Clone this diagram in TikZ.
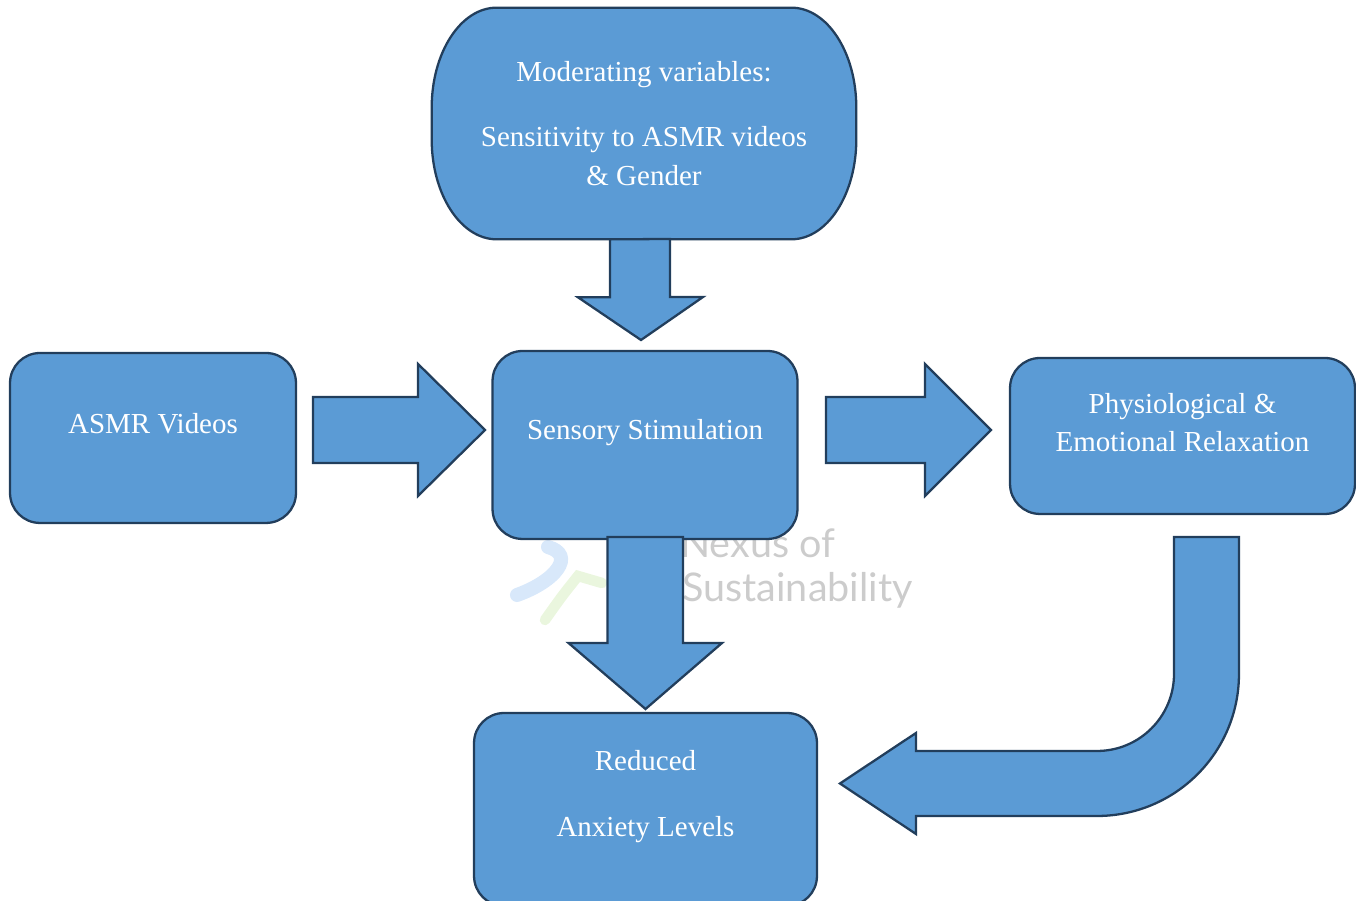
\documentclass[tikz,border=0pt]{standalone}
\usepackage{fontspec}
\setmainfont{Liberation Serif}
\newfontfamily\markfont{Lato}
\usetikzlibrary{calc,backgrounds}
\definecolor{boxfill}{HTML}{5B9BD5}
\definecolor{boxdraw}{HTML}{223E5C}
\definecolor{logoblue}{HTML}{D8E8FA}
\definecolor{logogreen}{HTML}{EAF6DE}

\begin{document}
\begin{tikzpicture}[x=0.02cm, y=0.02cm,
        boxline/.style={draw=boxdraw, fill=boxfill, line width=1.3pt},
        box/.style={boxline, rectangle, rounded corners=0.6cm, outer sep=0pt},
        boxtext/.style={text=white, font=\fontsize{16.5}{22}\selectfont, align=center},
        blockarrow/.style={boxline, line join=miter},
        wmark/.style={text=black!20, font=\markfont\fontsize{22.5}{27}\selectfont, inner sep=0pt}]

        \clip (0,0) rectangle (1356,901);

        % Watermark
        \draw[logoblue, line width=8pt, line cap=round] (548,354) .. controls (576,346) and (556,320) .. (517,306);
        \draw[logogreen, line width=6pt, line cap=round] (545,281) .. controls (562,305) .. (578,325) -- (602,318);
        \node[wmark, anchor=base west] (wmarkA) at (680,343) {Nexus of};
        \node[wmark, anchor=base west] (wmarkB) at (682,299) {Sustainability};

        % Moderating variables
        \node[boxtext, minimum width=8.48cm, minimum height=4.62cm] (mod) at (644,777.5) {Moderating variables:\\[15pt]Sensitivity to ASMR videos\\\& Gender};
        \begin{pgfonlayer}{background}
        \draw[boxline] ($(mod.north west)+(65,0)$) -- ($(mod.north east)+(-65,0)$)
            arc[start angle=90, end angle=0, x radius=65, y radius=100] -- ($(mod.south east)+(0,100)$)
            arc[start angle=0, end angle=-90, x radius=65, y radius=100] -- ($(mod.south west)+(65,0)$)
            arc[start angle=270, end angle=180, x radius=65, y radius=100] -- ($(mod.north west)+(0,-100)$)
            arc[start angle=180, end angle=90, x radius=65, y radius=100] -- cycle;
        \end{pgfonlayer}

        % Middle row
        \node[box, minimum width=5.72cm, minimum height=3.4cm, label={[boxtext, yshift=8pt]center:ASMR Videos}] (asmr) at (153,463) {};
        \node[box, minimum width=6.1cm, minimum height=3.76cm, label={[boxtext, yshift=6.8pt]center:Sensory Stimulation}] (sens) at (645,456) {};
        \node[box, minimum width=6.9cm, minimum height=3.12cm, label={[boxtext, yshift=7.6pt]center:Physiological \&\\Emotional Relaxation}] (phys) at (1182.5,465) {};

        % Outcome
        \node[box, minimum width=6.86cm, minimum height=3.86cm, label={[boxtext, yshift=7.3pt]center:Reduced\\[16pt]Anxiety Levels}] (red) at (645.5,91.5) {};

        % Draw arrows
        \draw[blockarrow] ($(mod.south)+(-34,0)$) -- ++(0,-58) -- ++(-32,0) -- ($(sens.north)+(-4,11)$) -- ++(62,43) -- ++(-33,0) -- ++(0,58) -- cycle;
        \draw[blockarrow] ($(asmr.east)+(17,-25)$) -- ++(105,0) -- ++(0,-33) -- ($(sens.west)+(-7.5,15)$) -- ++(-67,66) -- ++(0,-33) -- ++(-105,0) -- cycle;
        \draw[blockarrow] ($(sens.east)+(28.5,-18)$) -- ++(99,0) -- ++(0,-33) -- ($(phys.west)+(-19,6)$) -- ++(-66,66) -- ++(0,-33) -- ++(-99,0) -- cycle;
        \draw[blockarrow] ($(sens.south)+(-37.5,2)$) -- ++(0,-106) -- ++(-39,0) -- ($(red.north)+(0,4)$) -- ++(76.5,66) -- ++(-39,0) -- ++(0,106) -- cycle;
        \draw[blockarrow] ($(phys.south)+(-8.5,-23)$) -- ++(0,-137)
            arc[start angle=0, end angle=-90, radius=77] -- ++(-181,0) -- ++(0,18)
            -- ($(red.east)+(23,26)$) -- ++(76,-50.5) -- ++(0,18) -- ++(181,0)
            arc[start angle=-90, end angle=0, radius=142] -- ++(0,137) -- cycle;

    \end{tikzpicture}
\end{document}
